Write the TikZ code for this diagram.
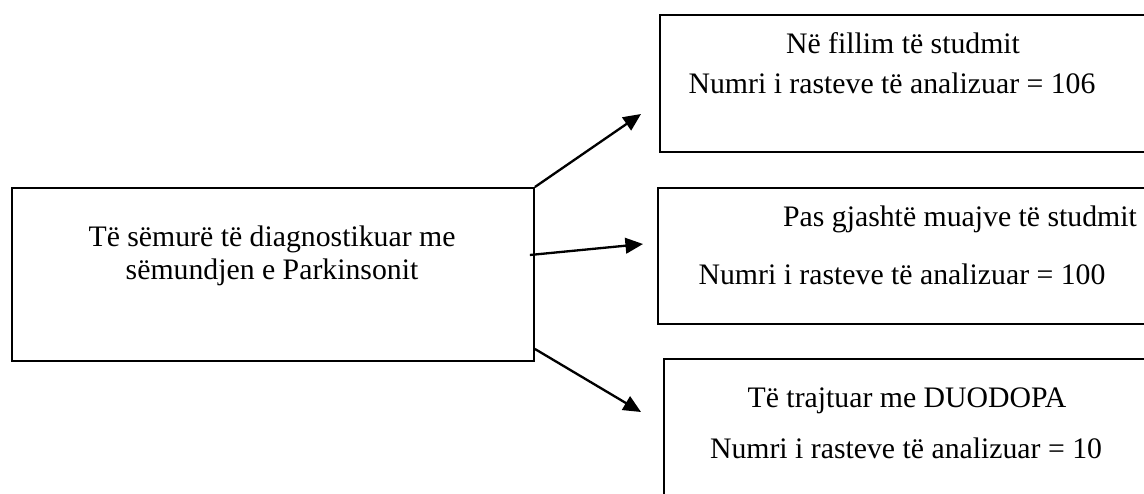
\documentclass[tikz,border=0pt]{standalone}
\usepackage{fontspec}
\setmainfont{Liberation Serif}
\usetikzlibrary{arrows.meta,calc}
\begin{document}
\begin{tikzpicture}[x=0.41pt,y=-0.41pt,
  box/.style={draw, line width=0.8pt, rectangle, inner sep=0pt, anchor=north west},
  txt/.style={anchor=base, inner sep=0pt, font=\fontsize{12.2}{14}\selectfont},
  arr/.style={line width=0.95pt, -{Triangle[length=7.2pt,width=6.4pt]}}]
\clip (0,0) rectangle (1144,493);
\node[box, minimum width=214.0pt, minimum height=70.93pt] (main) at (11,187) {};
\node[box, minimum width=201.3pt, minimum height=56.2pt] (b1) at (659,14) {};
\node[box, minimum width=202.1pt, minimum height=55.76pt] (b2) at (657,187) {};
\node[box, minimum width=199.7pt, minimum height=58.2pt] (b3) at (663,358) {};
\node[txt] (m1) at (272,246) {Të sëmurë të diagnostikuar me};
\node[txt] (m2) at (272,279) {sëmundjen e Parkinsonit};
\node[txt] (a1) at (903,53) {Në fillim të studmit};
\node[txt] (a2) at (892,93) {Numri i rasteve të analizuar = 106};
\node[txt] (c1) at (960,226) {Pas gjashtë muajve të studmit};
\node[txt] (c2) at (902,284) {Numri i rasteve të analizuar = 100};
\node[txt] (d1) at (907,407) {Të trajtuar me DUODOPA};
\node[txt] (d2) at (906,458) {Numri i rasteve të analizuar = 10};
\coordinate (t1) at (641,114);
\coordinate (t2) at (643,244);
\coordinate (t3) at (641,412);
\coordinate (s2) at ($(main.east)+(-5,-19.5)$);
\coordinate (s3) at ($(main.south east)+(0,-13)$);
\draw[arr] (main.north east) -- (t1);
\draw[arr] (s2) -- (t2);
\draw[arr] (s3) -- (t3);
\end{tikzpicture}
\end{document}
